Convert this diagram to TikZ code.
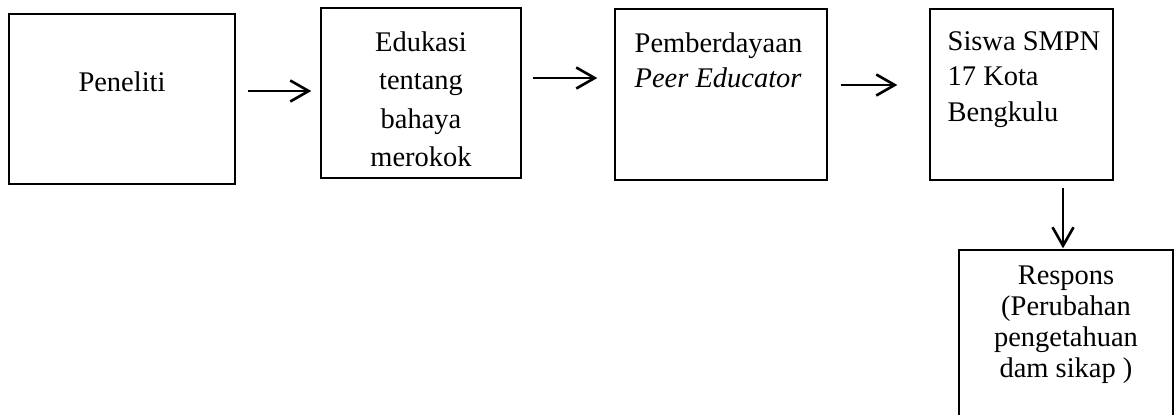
\documentclass[tikz,border=0pt]{standalone}
\usepackage{fontspec}
\setmainfont{Liberation Serif}
\usetikzlibrary{arrows.meta}

\begin{document}
\begin{tikzpicture}[x=0.02cm, y=-0.02cm]
\tikzset{blk/.style={draw, line width=0.8pt, rectangle, minimum width=4cm, minimum height=3.4cm, inner sep=0pt},
 txt/.style={inner sep=0pt, font=\fontsize{16.2}{#1}\selectfont},
 txt/.default={19.8},
 arr/.style={line width=1.5pt, -{Straight Barb[length=10.5pt, width=12pt, line width=1.5pt]}}}

\useasboundingbox (0,0) rectangle (1175,414);
\clip (0,0) rectangle (1175,414);

% Boxes in the main row
\node[blk, minimum width=4.52cm,
 label={[txt, yshift=0.34cm]center:Peneliti}] (pen) at (122,99) {};
\node[blk,
 label={[txt=21.8, align=center, anchor=north, yshift=-0.48cm]north:Edukasi\\tentang\\bahaya\\merokok}] (edu) at (421,93) {};
\node[blk, minimum width=4.24cm, minimum height=3.42cm,
 label={[txt=19.8, align=left, anchor=north west, xshift=0.4cm, yshift=-0.48cm]north west:Pemberdayaan\\\textit{Peer Educator}}] (pem) at (721,94.5) {};
\node[blk, minimum width=3.66cm, minimum height=3.42cm,
 label={[txt=20.1, align=left, anchor=north west, xshift=0.36cm, yshift=-0.46cm]north west:Siswa SMPN\\17 Kota\\Bengkulu}] (sis) at (1021.5,94.5) {};

% Outcome box (runs off the bottom)
\node[blk, minimum width=4.28cm, minimum height=3.8cm,
 label={[txt=17.6, align=center, anchor=north, yshift=-0.32cm]north:Respons\\(Perubahan\\pengetahuan\\dam sikap )}] (res) at (1066,345) {};

% Connections
\draw[arr, shorten <=0.24cm, shorten >=0.18cm] ([yshift=0.16cm]pen.east) -- ([yshift=0.16cm]pen.east -| edu.west);
\draw[arr, shorten <=0.22cm, shorten >=0.34cm] ([yshift=0.3cm]edu.east) -- ([yshift=0.3cm]edu.east -| pem.west);
\draw[arr, shorten <=0.26cm, shorten >=0.64cm] ([yshift=0.19cm]pem.east) -- ([yshift=0.19cm]pem.east -| sis.west);
\draw[arr, shorten <=0.14cm, shorten >=0.02cm] ([xshift=0.83cm]sis.south) -- ([xshift=0.83cm]sis.south |- res.north);

\end{tikzpicture}
\end{document}
